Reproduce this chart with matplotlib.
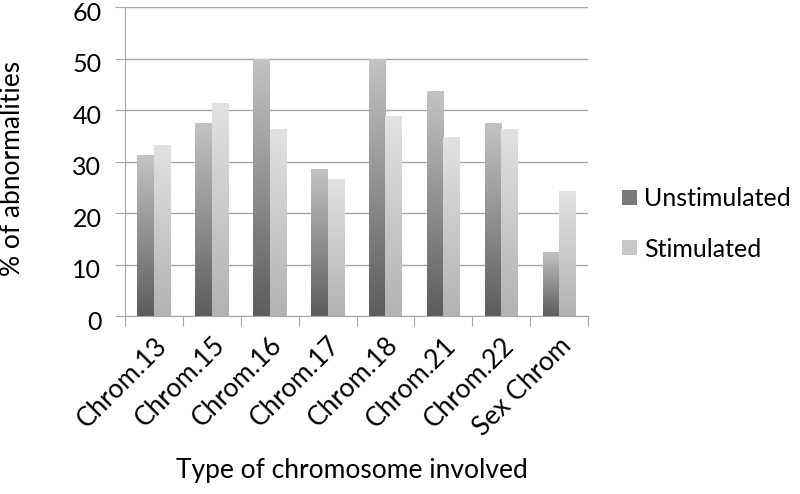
import numpy as np
import matplotlib.pyplot as plt
import matplotlib.transforms as mtransforms
from matplotlib.colors import LinearSegmentedColormap
from matplotlib.patches import Rectangle
from matplotlib.legend_handler import HandlerPatch

plt.rcParams['font.family'] = ['Lato', 'DejaVu Sans']

categories = ['Chrom.13', 'Chrom.15', 'Chrom.16', 'Chrom.17', 'Chrom.18',
              'Chrom.21', 'Chrom.22', 'Sex Chrom']
unstimulated = [31.25, 37.5, 50.0, 28.6, 50.0, 43.75, 37.5, 12.5]
stimulated = [33.3, 41.4, 36.4, 26.6, 38.8, 34.8, 36.4, 24.2]

fs = 19
fig = plt.figure(figsize=(8, 4.94), dpi=100)
ax = fig.add_axes([125/800, 1 - 316/494, 463/800, 309/494])

grid_col = '#a6a6a6'
width = 0.285
x = np.arange(len(categories))

cm_dark = LinearSegmentedColormap.from_list('d', ['#5c5c5c', '#c4c4c4'])
cm_light = LinearSegmentedColormap.from_list('l', ['#b2b2b2', '#e2e2e2'])
grad = np.linspace(0, 1, 256).reshape(-1, 1)


def gradient_bars(xpos, vals, cmap):
    bars = ax.bar(xpos, vals, width, color='none', edgecolor='none', zorder=3)
    for b in bars:
        x0, y0 = b.get_x(), b.get_y()
        w, h = b.get_width(), b.get_height()
        im = ax.imshow(grad, cmap=cmap, origin='lower', aspect='auto',
                       extent=[x0, x0 + w, y0, y0 + h], zorder=3)
        im.set_clip_path(b)
    return bars


gradient_bars(x - width / 2, unstimulated, cm_dark)
gradient_bars(x + width / 2, stimulated, cm_light)

ax.set_xlim(-0.5, len(categories) - 0.5)
ax.set_ylim(0, 60)
ax.set_yticks(range(0, 61, 10))
ax.yaxis.grid(True, color=grid_col, linewidth=1)
ax.set_axisbelow(True)

ax.set_xticks(np.arange(-0.5, len(categories), 1))
ax.set_xticklabels([])
ax.set_xticks(x, minor=True)
ax.set_xticklabels(categories, minor=True, rotation=45, ha='right', va='top',
                   rotation_mode='anchor', fontsize=fs)
shift = mtransforms.ScaledTranslation(10/100, -4/100, fig.dpi_scale_trans)
for lab in ax.get_xticklabels(minor=True):
    lab.set_transform(lab.get_transform() + shift)
ax.tick_params(axis='x', which='minor', length=0, pad=12)
ax.tick_params(axis='x', which='major', length=7, color=grid_col, direction='out')
ax.tick_params(axis='y', length=7, color=grid_col, labelsize=18, pad=10)
down = mtransforms.ScaledTranslation(0, -4/100, fig.dpi_scale_trans)
for lab in ax.get_yticklabels():
    lab.set_transform(lab.get_transform() + down)

for s in ['top', 'right']:
    ax.spines[s].set_visible(False)
for s in ['left', 'bottom']:
    ax.spines[s].set_color(grid_col)

fig.text(13/800, 1 - 168/494, '% of abnormalities', fontsize=fs,
         rotation=90, ha='center', va='center')
fig.text(352/800, 1 - 470/494, 'Type of chromosome involved', fontsize=fs,
         ha='center', va='center')

h1 = Rectangle((0, 0), 1, 1, facecolor='#7a7a7a')
h2 = Rectangle((0, 0), 1, 1, facecolor='#c8c8c8')


def make_square(legend, orig_handle, xdescent, ydescent, width, height, fontsize):
    s = min(width, height)
    return Rectangle((-xdescent + (width - s) / 2, -ydescent + (height - s) / 2), s, s)


ax.legend([h1, h2], ['Unstimulated', 'Stimulated'], fontsize=18,
          frameon=False, loc='center left',
          bbox_to_anchor=(622/800, 1 - 224/494), bbox_transform=fig.transFigure,
          borderaxespad=0, borderpad=0,
          handlelength=0.6, handleheight=0.6, handletextpad=0.3,
          labelspacing=1.1,
          handler_map={Rectangle: HandlerPatch(patch_func=make_square)})

fig.savefig('out.png', dpi=100)
